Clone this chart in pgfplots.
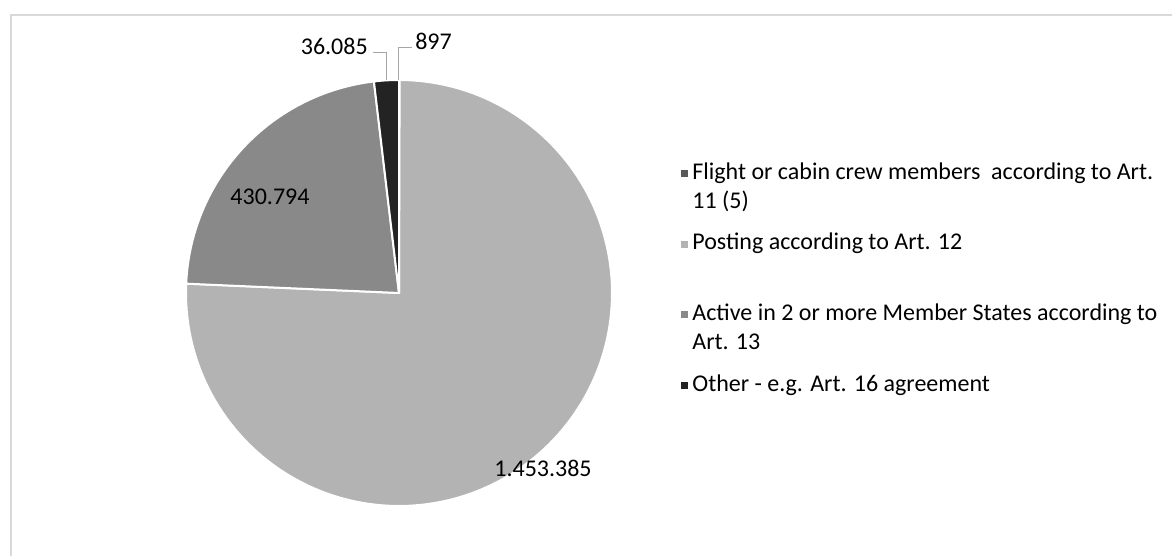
\documentclass[border=0pt]{standalone}
\usepackage{fontspec}
\setmainfont{Carlito}
\usepackage{pgfplots}
\usepackage{pgfplotstable}
\pgfplotsset{compat=1.18}
\definecolor{cFlight}{HTML}{595959}
\definecolor{cPost}{HTML}{B3B3B3}
\definecolor{cActive}{HTML}{898989}
\definecolor{cOther}{HTML}{232323}
\definecolor{cFrame}{HTML}{D9D9D9}
\definecolor{cLeader}{HTML}{A6A6A6}

\pgfplotstableread{
id value
1 897
2 1453385
3 430794
4 36085
}\piedata
\pgfplotstablegetelem{0}{value}\of\piedata \edef\vA{\pgfplotsretval}
\pgfplotstablegetelem{1}{value}\of\piedata \edef\vB{\pgfplotsretval}
\pgfplotstablegetelem{2}{value}\of\piedata \edef\vC{\pgfplotsretval}
\pgfplotstablegetelem{3}{value}\of\piedata \edef\vD{\pgfplotsretval}
\edef\tot{\fpeval{\vA+\vB+\vC+\vD}}
\edef\aA{90}
\edef\aB{\fpeval{round(90-360*\vA/\tot,4)}}
\edef\aC{\fpeval{round(\aB-360*\vB/\tot,4)}}
\edef\aD{\fpeval{round(\aC-360*\vC/\tot,4)}}
\edef\aE{\fpeval{round(\aD-360*\vD/\tot,4)}}

\newcommand\lblfont{\fontsize{18pt}{22pt}\selectfont}
\newcommand\pieslice[3]{%
  \addplot[forget plot, fill=#1, draw=white, line width=1.5pt, line join=round,
    domain=#2:#3, samples=150] ({399+213*cos(x)},{263+213*sin(x)}) -- (axis cs:399,263) -- cycle;}
\newcommand\sq[1]{\addlegendimage{legend image code/.code={\fill[#1,draw=none] (0pt,-2.7pt) rectangle (5.4pt,2.7pt); \path[draw=none,fill=none] (0pt,0pt) rectangle (8.5pt,0.1pt);}}}

\begin{document}
\begin{tikzpicture}
\begin{axis}[
  width=879pt, height=417pt, scale only axis,
  xmin=0, xmax=1172, ymin=0, ymax=556,
  hide axis, clip=true,
  legend cell align=left,
  legend style={draw=none, fill=none, at={(0.5811,0.7068)}, anchor=north west,
    inner sep=0pt, outer sep=0pt, row sep=37.25pt, font=\lblfont,
    nodes={inner sep=0pt, text height=12pt, text depth=3.75pt}},
]
\path[fill=white] (axis cs:0,0) rectangle (axis cs:1172,556);
\draw[cFrame, line width=1.5pt] (axis cs:10.5,-20) -- (axis cs:10.5,540.5) -- (axis cs:1200,540.5);

\pieslice{cFlight}{\aB}{\aA}
\pieslice{cPost}{\aC}{\aB}
\pieslice{cActive}{\aD}{\aC}
\pieslice{cOther}{\aE}{\aD}

\sq{cFlight}
\addlegendentry{\vtop{\hbox{Flight or cabin crew members~ according to Art.}\hbox{11 (5)}}}
\sq{cPost}
\addlegendentry{Posting according to Art. 12}
\sq{cActive}
\addlegendentry{\vtop{\hbox{Active in 2 or more Member States according to}\hbox{Art. 13}}}
\sq{cOther}
\addlegendentry{Other - e.g. Art. 16 agreement}

% data labels
\draw[cLeader, line width=0.75pt] (axis cs:373,503) -- (axis cs:386,503) -- (axis cs:386,476);
\draw[cLeader, line width=0.75pt] (axis cs:412,508) -- (axis cs:398,508) -- (axis cs:398,476);
\node[anchor=base east, inner sep=0pt, font=\lblfont] at (axis cs:368,501) {36.085};
\node[anchor=base west, inner sep=0pt, font=\lblfont] at (axis cs:415,506.5) {897};
\node[anchor=base, inner sep=0pt, font=\lblfont] at (axis cs:270,351) {430.794};
\node[anchor=base, inner sep=0pt, font=\lblfont] at (axis cs:543,79) {1.453.385};
\end{axis}
\end{tikzpicture}
\end{document}
